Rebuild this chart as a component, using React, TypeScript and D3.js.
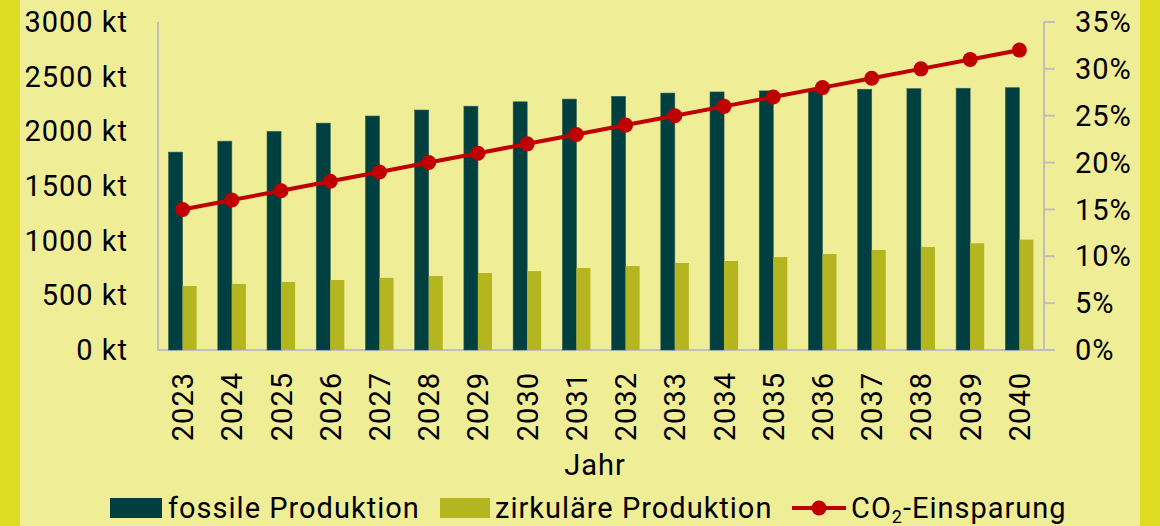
import React from "react";
import * as d3 from "d3";

const years = ["2023","2024","2025","2026","2027","2028","2029","2030","2031","2032","2033","2034","2035","2036","2037","2038","2039","2040"];
const fossil = [1810, 1910, 2000, 2075, 2140, 2195, 2230, 2270, 2295, 2320, 2350, 2360, 2370, 2378, 2385, 2390, 2394, 2399];
const circular = [585, 604, 622, 640, 660, 677, 704, 722, 750, 768, 796, 814, 850, 878, 915, 942, 976, 1009];
const co2 = [15, 16, 17, 18, 19, 20, 21, 22, 23, 24, 25, 26, 27, 28, 29, 30, 31, 32];
const leftTicks = [0, 500, 1000, 1500, 2000, 2500, 3000];
const rightTicks = [0, 5, 10, 15, 20, 25, 30, 35];

const W = 1160, H = 526;
const X0 = 158, X1 = 1044, Y0 = 350, Y1 = 22;
const FONT = "Roboto, 'Noto Sans', sans-serif";
const BG = "#EFEE97";
const BORDER = "#DFDC24";
const DARK = "#003F3F";
const LIGHT = "#B5B520";
const RED = "#C00000";
const AXIS = "#BFBFBF";
const LS = 1;

export default function App() {
  const x = d3.scaleBand().domain(years).range([X0, X1]).paddingInner(0.43).paddingOuter(0.215);
  const yL = d3.scaleLinear().domain([0, 3000]).range([Y0, Y1]);
  const yR = d3.scaleLinear().domain([0, 35]).range([Y0, Y1]);
  const bw = x.bandwidth() / 2;
  const cx = (y: string) => (x(y) as number) + x.bandwidth() / 2;
  const line = d3.line<number>().x((_, i) => cx(years[i])).y((d) => yR(d));

  return (
    <svg width={W} height={H} style={{ position: "absolute", left: 0, top: 0 }} fontFamily={FONT} letterSpacing={LS}>
      <rect x={0} y={0} width={W} height={H} fill={BG} />
      <rect x={0} y={0} width={20} height={H} fill={BORDER} />
      <rect x={1140} y={0} width={20} height={H} fill={BORDER} />

      {/* axes */}
      <line x1={X0} x2={X0} y1={Y1} y2={Y0} stroke={AXIS} strokeWidth={2} />
      <line x1={X1} x2={X1} y1={Y1} y2={Y0} stroke={AXIS} strokeWidth={2} />
      <line x1={X0 - 1} x2={X1 + 11} y1={Y0} y2={Y0} stroke={AXIS} strokeWidth={2} />
      {rightTicks.map((t) => (
        <line key={t} x1={X1} x2={X1 + 11} y1={yR(t)} y2={yR(t)} stroke={AXIS} strokeWidth={2} />
      ))}

      {/* left labels */}
      {leftTicks.map((t) => (
        <text key={t} x={128} y={yL(t)} dy="0.35em" textAnchor="end" fontSize={29} fill="#000">
          {`${t} kt`}
        </text>
      ))}
      {rightTicks.map((t) => (
        <text key={t} x={1075} y={yR(t)} dy="0.35em" textAnchor="start" fontSize={29} fill="#000">
          {`${t}%`}
        </text>
      ))}

      {/* bars */}
      {years.map((yr, i) => (
        <g key={yr}>
          <rect x={x(yr) as number} y={yL(fossil[i])} width={bw} height={Y0 - yL(fossil[i])} fill={DARK} stroke="#2f5f5a" strokeWidth={0.6} />
          <rect x={(x(yr) as number) + bw} y={yL(circular[i])} width={bw} height={Y0 - yL(circular[i])} fill={LIGHT} />
        </g>
      ))}

      {/* line */}
      <path d={line(co2) || ""} fill="none" stroke={RED} strokeWidth={4} />
      {co2.map((v, i) => (
        <circle key={i} cx={cx(years[i])} cy={yR(v)} r={7.5} fill={RED} />
      ))}

      {/* x labels */}
      {years.map((yr) => (
        <text key={yr} transform={`translate(${cx(yr)},372) rotate(-90)`} dy="0.36em" textAnchor="end" fontSize={29} fill="#000">
          {yr}
        </text>
      ))}
      <text x={595} y={475} textAnchor="middle" fontSize={29} fill="#000">Jahr</text>

      {/* legend */}
      <rect x={110} y={498} width={52} height={20} fill={DARK} />
      <text x={168} y={518} fontSize={29} fill="#000">fossile Produktion</text>
      <rect x={440} y={498} width={50} height={20} fill={LIGHT} />
      <text x={495} y={518} fontSize={29} fill="#000">zirkuläre Produktion</text>
      <line x1={792} x2={846} y1={508} y2={508} stroke={RED} strokeWidth={4} />
      <circle cx={819} cy={508} r={7.5} fill={RED} />
      <text x={851} y={518} fontSize={29} fill="#000">
        CO<tspan fontSize={18} dy={5}>2</tspan><tspan dy={-5}>-Einsparung</tspan>
      </text>
    </svg>
  );
}
